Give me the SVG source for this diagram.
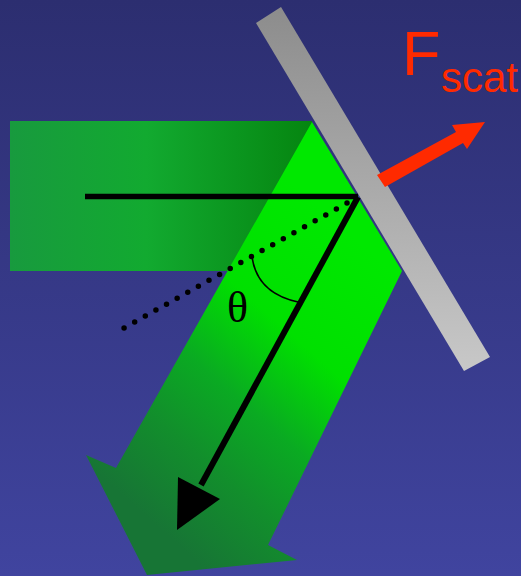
<svg xmlns="http://www.w3.org/2000/svg" width="521" height="576" viewBox="0 0 521 576">
  <defs>
    <linearGradient id="bg" x1="0" y1="0" x2="0" y2="1">
      <stop offset="0" stop-color="#2c2e70"/>
      <stop offset="1" stop-color="#40449f"/>
    </linearGradient>
    <linearGradient id="incident" x1="10" y1="0" x2="312" y2="0" gradientUnits="userSpaceOnUse">
      <stop offset="0" stop-color="#189a3e"/>
      <stop offset="0.45" stop-color="#12aa30"/>
      <stop offset="1" stop-color="#058510"/>
    </linearGradient>
    <linearGradient id="reflected" x1="380" y1="260" x2="150" y2="520" gradientUnits="userSpaceOnUse">
      <stop offset="0" stop-color="#00e800"/>
      <stop offset="0.33" stop-color="#00e000"/>
      <stop offset="0.57" stop-color="#0aaa22"/>
      <stop offset="0.77" stop-color="#128e2c"/>
      <stop offset="1" stop-color="#177535"/>
    </linearGradient>
    <linearGradient id="mirrorGrad" x1="0" y1="7" x2="0" y2="371" gradientUnits="userSpaceOnUse">
      <stop offset="0" stop-color="#8c8c8c"/>
      <stop offset="1" stop-color="#c8c8c8"/>
    </linearGradient>
    <style>
      .line { stroke: #000; fill: none; }
      .red { fill: #ff2a00; font-family: "Liberation Sans", Arial, sans-serif; }
    </style>
  </defs>

  <rect id="background" x="0" y="0" width="521" height="576" fill="url(#bg)"/>

  <g id="incident-beam">
    <rect x="10" y="121" width="302" height="150" fill="url(#incident)"/>
  </g>

  <g id="reflected-beam">
    <polygon points="312,122 402,271 268,545 297,560 147,575 86,455 116,468" fill="url(#reflected)"/>
  </g>

  <g id="mirror">
    <polygon points="256,23 281,7 490,357 464,371" fill="url(#mirrorGrad)"/>
  </g>

  <g id="force-arrow">
    <polygon points="377,175 456,132 452,125 485,122 467,149 463,143 385,187" fill="#ff2a00"/>
  </g>

  <g id="label-fscat">
    <text class="red" x="402" y="75" font-size="63">F</text>
    <text class="red" x="441" y="92" font-size="42">scat</text>
  </g>

  <g id="connectors">
    <line class="line" x1="85" y1="196.5" x2="358" y2="196.5" stroke-width="5.5"/>
    <line class="line" x1="347" y1="203" x2="124" y2="328" stroke-width="5.5" stroke-linecap="round" stroke-dasharray="0 12.17"/>
    <line class="line" x1="358" y1="197" x2="201" y2="485" stroke-width="6"/>
    <polygon points="178,477 220,499 177,530" fill="#000"/>
    <path class="line" d="M252,257 C256,285 275,297 298,302" stroke-width="1.7"/>
  </g>

  <g id="label-theta">
    <text x="237.5" y="322" font-size="44" text-anchor="middle" font-family="'Liberation Serif', 'Times New Roman', serif" fill="#000">θ</text>
  </g>
</svg>
